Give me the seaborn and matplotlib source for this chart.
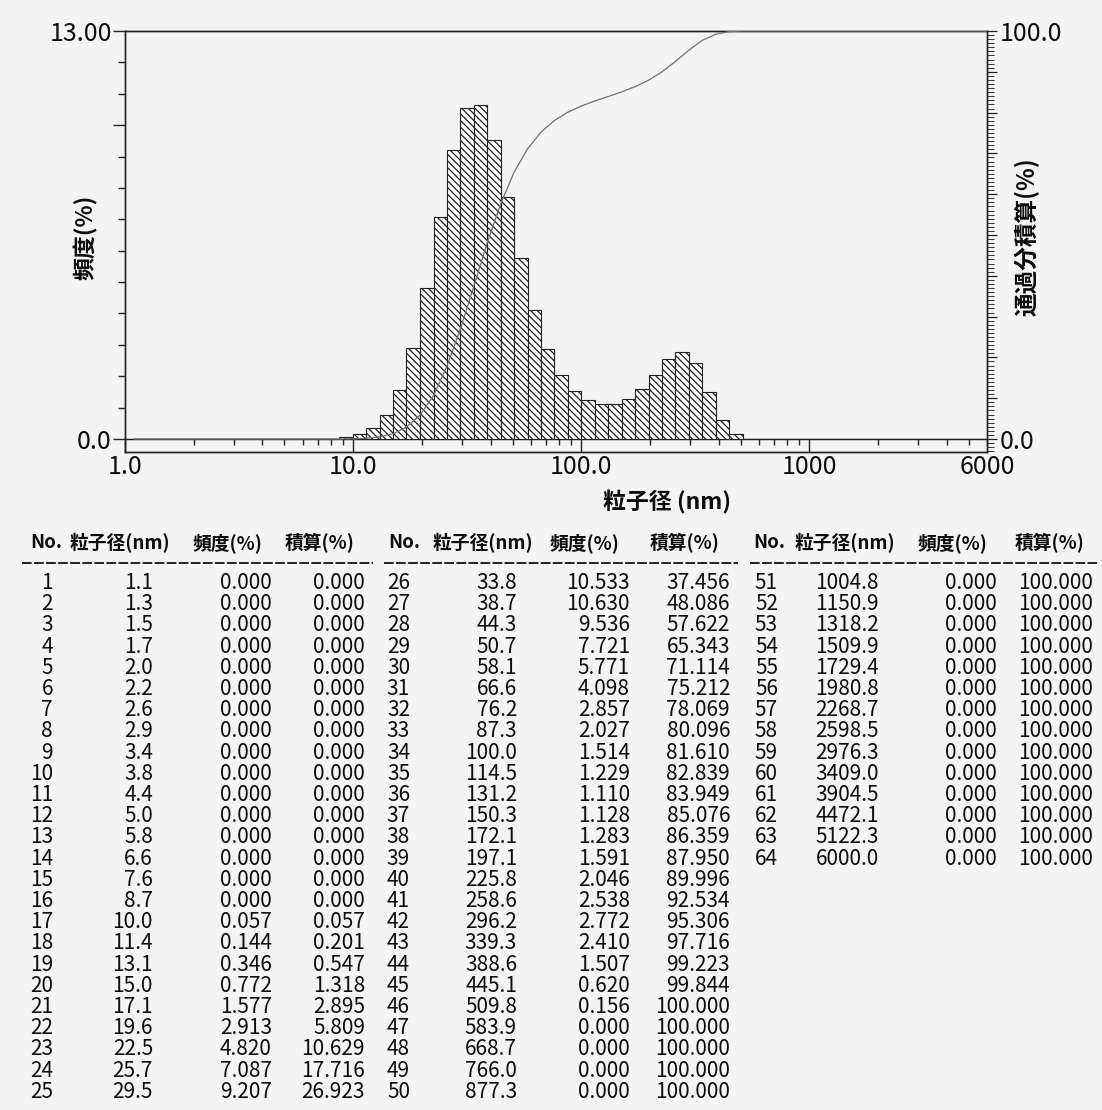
import numpy as np
import pandas as pd
import matplotlib
matplotlib.use("Agg")
import matplotlib.pyplot as plt
from matplotlib.ticker import MultipleLocator, NullLocator
from matplotlib.lines import Line2D
import seaborn as sns

# ---------------- data ----------------
sizes_nm = [1.1, 1.3, 1.5, 1.7, 2.0, 2.2, 2.6, 2.9, 3.4, 3.8, 4.4, 5.0, 5.8, 6.6, 7.6, 8.7,
            10.0, 11.4, 13.1, 15.0, 17.1, 19.6, 22.5, 25.7, 29.5,
            33.8, 38.7, 44.3, 50.7, 58.1, 66.6, 76.2, 87.3, 100.0, 114.5, 131.2, 150.3,
            172.1, 197.1, 225.8, 258.6, 296.2, 339.3, 388.6, 445.1, 509.8, 583.9, 668.7,
            766.0, 877.3,
            1004.8, 1150.9, 1318.2, 1509.9, 1729.4, 1980.8, 2268.7, 2598.5, 2976.3,
            3409.0, 3904.5, 4472.1, 5122.3, 6000.0]
freq_pct = [0.000, 0.000, 0.000, 0.000, 0.000, 0.000, 0.000, 0.000, 0.000, 0.000,
            0.000, 0.000, 0.000, 0.000, 0.000, 0.000,
            0.057, 0.144, 0.346, 0.772, 1.577, 2.913, 4.820, 7.087, 9.207,
            10.533, 10.630, 9.536, 7.721, 5.771, 4.098, 2.857, 2.027, 1.514, 1.229,
            1.110, 1.128, 1.283, 1.591, 2.046, 2.538, 2.772, 2.410, 1.507, 0.620, 0.156,
            0.000, 0.000, 0.000, 0.000,
            0.000, 0.000, 0.000, 0.000, 0.000, 0.000, 0.000, 0.000, 0.000, 0.000,
            0.000, 0.000, 0.000, 0.000]
cum_pct = [0.000, 0.000, 0.000, 0.000, 0.000, 0.000, 0.000, 0.000, 0.000, 0.000,
           0.000, 0.000, 0.000, 0.000, 0.000, 0.000,
           0.057, 0.201, 0.547, 1.318, 2.895, 5.809, 10.629, 17.716, 26.923,
           37.456, 48.086, 57.622, 65.343, 71.114, 75.212, 78.069, 80.096, 81.610,
           82.839, 83.949, 85.076, 86.359, 87.950, 89.996, 92.534, 95.306, 97.716,
           99.223, 99.844, 100.000, 100.000, 100.000, 100.000, 100.000,
           100.000, 100.000, 100.000, 100.000, 100.000, 100.000, 100.000, 100.000,
           100.000, 100.000, 100.000, 100.000, 100.000, 100.000]
first_edge_nm = 1.0

x_tick_values = [1, 10, 100, 1000, 6000]
x_tick_labels = ["1.0", "10.0", "100.0", "1000", "6000"]
left_tick_labels = ["0.0", "13.00"]
right_tick_labels = ["0.0", "100.0"]
header_labels = ["No.", "粒子径(nm)", "頻度(%)", "積算(%)"]
y_label_left = "頻度(%)"
y_label_right = "通過分積算(%)"
x_label = "粒子径 (nm)"

# ---------------- style ----------------
sns.set_theme(style="white")
plt.rcParams["font.family"] = ["Noto Sans CJK JP", "DejaVu Sans"]
plt.rcParams["hatch.linewidth"] = 0.9
plt.rcParams["hatch.color"] = "#2a2a2a"

W, H = 1102, 1110
BG = "#f4f4f4"
INK = "#0d0d0d"
fig = plt.figure(figsize=(W / 100, H / 100), dpi=100)
fig.patch.set_facecolor(BG)

def fx(x):
    return x / W

def fy(y):
    return 1 - y / H

# plot box: left 125, right 987, top 31, bottom 452 ; zero level at 439
ax = fig.add_axes([fx(125), fy(452), (987 - 125) / W, (452 - 31) / H])
ax.set_facecolor(BG)

ymin_left = -13.0 * 13.0 / 408.0

edges = np.concatenate([[first_edge_nm], np.asarray(sizes_nm)])
mids = np.sqrt(edges[:-1] * edges[1:])
hist_df = pd.DataFrame({"size": mids, "freq": freq_pct})
log_edges = [float(v) for v in np.log10(edges)]

sns.histplot(data=hist_df, x="size", weights="freq", bins=log_edges, log_scale=True,
             stat="count", element="bars", ax=ax, color="white",
             edgecolor="#202020", linewidth=0.8, alpha=1.0,
             hatch="\\\\\\\\\\", zorder=2)
ax.set_xscale("log")
ax.set_xlim(1, 6000)
ax.set_ylim(ymin_left, 13.0)

TICK_FS = 18

# bottom axis: labels only
ax.set_xticks(x_tick_values)
ax.set_xticklabels(x_tick_labels)
ax.xaxis.set_minor_locator(NullLocator())
ax.tick_params(axis="x", which="both", length=0, pad=1.5, labelsize=TICK_FS, colors=INK)

# zero line with hanging ticks
zero_loc = (0 - ymin_left) / (13.0 - ymin_left)
secax = ax.secondary_xaxis(zero_loc)
secax.set_alignment("bottom")
secax.tick_params(axis="x", which="major", direction="out", length=9.4, width=1.0,
                  color="#222", labelbottom=False, labeltop=False)
secax.tick_params(axis="x", which="minor", direction="out", length=4.3, width=1.0,
                  color="#222", labelbottom=False, labeltop=False)
secax.spines["bottom"].set_color("#222")
secax.spines["bottom"].set_linewidth(1.0)

# left axis
ax.set_yticks([0, 10, 13])
ax.set_yticklabels([left_tick_labels[0], "", left_tick_labels[1]])
ax.yaxis.set_minor_locator(MultipleLocator(1))
ax.tick_params(axis="y", which="major", direction="out", length=9.0, width=1.0,
               color="#222", pad=0.5, labelsize=TICK_FS, labelcolor=INK, left=True)
ax.tick_params(axis="y", which="minor", direction="out", length=5.0, width=1.0,
               color="#222", left=True)
for s in ax.spines.values():
    s.set_color("#222")
    s.set_linewidth(1.0)
ax.set_xlabel("")
ax.set_ylabel("")

# right axis + cumulative curve
ax2 = ax.twinx()
ax2.set_facecolor("none")
cum_df = pd.DataFrame({"size": sizes_nm, "cum": cum_pct})
sns.lineplot(data=cum_df, x="size", y="cum", ax=ax2, color="#707070", linewidth=0.9, zorder=3)
ax2.set_ylim(ymin_left / 13.0 * 100.0, 100.0)
ax2.set_xlim(1, 6000)
ax2.set_yticks(list(range(0, 101, 10)))
ax2.set_yticklabels([right_tick_labels[0]] + [""] * 9 + [right_tick_labels[1]])
ax2.yaxis.set_minor_locator(MultipleLocator(1))
ax2.tick_params(axis="y", which="major", direction="out", length=7.0, width=0.9,
                color="#222", pad=2.0, labelsize=TICK_FS, labelcolor=INK, right=True)
ax2.tick_params(axis="y", which="minor", direction="out", length=5.0, width=0.7,
                color="#333", right=True)
ax2.set_xlabel("")
ax2.set_ylabel("")
for s in ax2.spines.values():
    s.set_color("#222")
    s.set_linewidth(1.0)

# axis titles
fig.text(fx(86), fy(237), y_label_left, rotation=90, ha="center", va="center",
         fontsize=16.5, fontweight="bold", color=INK)
fig.text(fx(1027), fy(237), y_label_right, rotation=90, ha="center", va="center",
         fontsize=17, fontweight="bold", color=INK)
fig.text(fx(603), fy(502), x_label, ha="left", va="center",
         fontsize=16.5, fontweight="bold", color=INK)

# ---------------- table ----------------
blocks = [
    dict(hdr=[30, 70, 193, 285], cols=[53, 153, 272, 365], dash=(22, 373)),
    dict(hdr=[388, 433, 550, 650], cols=[410, 517, 630, 730], dash=(384, 738)),
    dict(hdr=[753, 795, 918, 1015], cols=[778, 879, 997, 1093], dash=(750, 1097)),
]
header_y = 543
dash_y = 563
row0_y = 583
row_step = 21.2
rows_per_block = 25
n_rows = len(sizes_nm)

for b, blk in enumerate(blocks):
    for xh, lab in zip(blk["hdr"], header_labels):
        fig.text(fx(xh), fy(header_y), lab, ha="left", va="center",
                 fontsize=13.5, fontweight="bold", color=INK)
    x0, x1 = blk["dash"]
    fig.add_artist(Line2D([fx(x0), fx(x1)], [fy(dash_y), fy(dash_y)],
                          transform=fig.transFigure, color="#222", linewidth=1.4,
                          linestyle=(0, (5.0, 1.2))))
    for r in range(rows_per_block):
        i = b * rows_per_block + r
        if i >= n_rows:
            break
        y = row0_y + r * row_step
        vals = [f"{i + 1}", f"{sizes_nm[i]:.1f}", f"{freq_pct[i]:.3f}", f"{cum_pct[i]:.3f}"]
        for xc, v in zip(blk["cols"], vals):
            fig.text(fx(xc), fy(y), v, ha="right", va="center",
                     fontsize=15, color=INK)

fig.savefig("out.png", dpi=100, facecolor=BG)
